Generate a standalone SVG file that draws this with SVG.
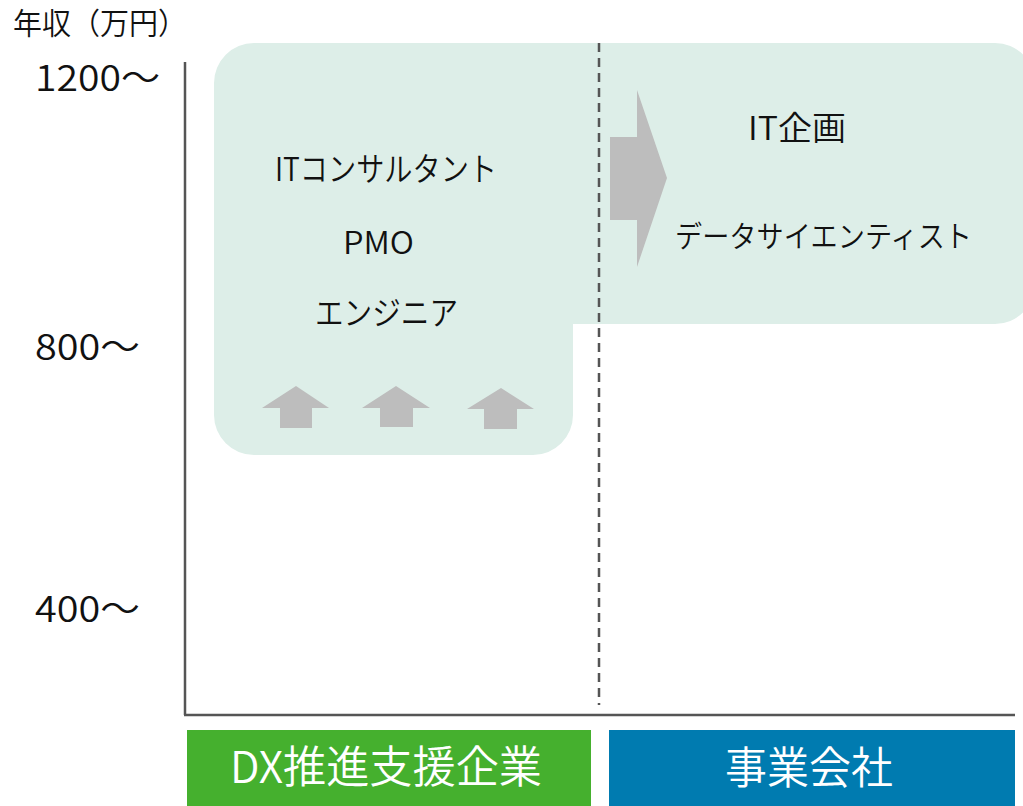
<svg xmlns="http://www.w3.org/2000/svg" width="1023" height="806" viewBox="0 0 1023 806">
<style>
text{font-family:"Noto Sans CJK JP","Noto Sans",sans-serif;fill:#111;font-weight:350}
.lbl{font-size:33px}
.ds{font-size:30px}
.pmo{font-size:31px}
.axl{font-size:36px}
.cat{font-size:44px;fill:#fff}
.arr{fill:#BDBDBD}
</style>
<rect width="1023" height="806" fill="#fff"/>
<g id="zone">
<path d="M254,43 H995 A40,40 0 0 1 1035,83 V284 A40,40 0 0 1 995,324 H573 V415 A40,40 0 0 1 533,455 H254 A40,40 0 0 1 214,415 V83 A40,40 0 0 1 254,43 Z" fill="#DDEEE8"/>
</g>
<g id="axes" stroke="#555" fill="none">
<line x1="185" y1="62" x2="185" y2="715" stroke-width="2.5"/>
<line x1="184" y1="715" x2="1015" y2="715" stroke-width="2.5"/>
<line x1="599" y1="43" x2="599" y2="705" stroke-width="2.5" stroke-dasharray="9,6"/>
</g>
<g id="axis-labels">
<text x="13" y="34" style="font-size:30px" textLength="174" lengthAdjust="spacingAndGlyphs">年収（万円）</text>
<text class="axl" x="35" y="91" textLength="125" lengthAdjust="spacingAndGlyphs">1200〜</text>
<text class="axl" x="35" y="360" textLength="105" lengthAdjust="spacingAndGlyphs">800〜</text>
<text class="axl" x="35" y="622" textLength="105" lengthAdjust="spacingAndGlyphs">400〜</text>
</g>
<g id="arrows">
<path class="arr" d="M296,386 L329,408 H312 V428 H280 V408 H262 Z"/>
<path class="arr" d="M396,386 L430,408 H413 V427 H380 V408 H362 Z"/>
<path class="arr" d="M501,388 L534,409 H517 V429 H484 V409 H467 Z"/>
<path class="arr" d="M610,137 H637 V90 L667,178 L637,267 V220 H610 Z"/>
</g>
<g id="node-it-consultant"><text class="lbl" x="275" y="181" textLength="222" lengthAdjust="spacingAndGlyphs">ITコンサルタント</text></g>
<g id="node-pmo"><text class="pmo" x="343" y="254" textLength="71" lengthAdjust="spacingAndGlyphs">PMO</text></g>
<g id="node-engineer"><text class="lbl" x="315" y="325" textLength="143" lengthAdjust="spacingAndGlyphs">エンジニア</text></g>
<g id="node-it-planning"><text class="lbl" x="748" y="140" textLength="98" lengthAdjust="spacingAndGlyphs">IT企画</text></g>
<g id="node-data-scientist"><text class="ds" x="675" y="247" textLength="297" lengthAdjust="spacingAndGlyphs">データサイエンティスト</text></g>
<g id="cat-dx">
<rect x="187" y="730" width="404" height="76" fill="#45B02E"/>
<text class="cat" x="230" y="783" textLength="312" lengthAdjust="spacingAndGlyphs">DX推進支援企業</text>
</g>
<g id="cat-business">
<rect x="609" y="730" width="406" height="76" fill="#007BB0"/>
<text class="cat" x="725" y="784" textLength="168" lengthAdjust="spacingAndGlyphs">事業会社</text>
</g>
</svg>
